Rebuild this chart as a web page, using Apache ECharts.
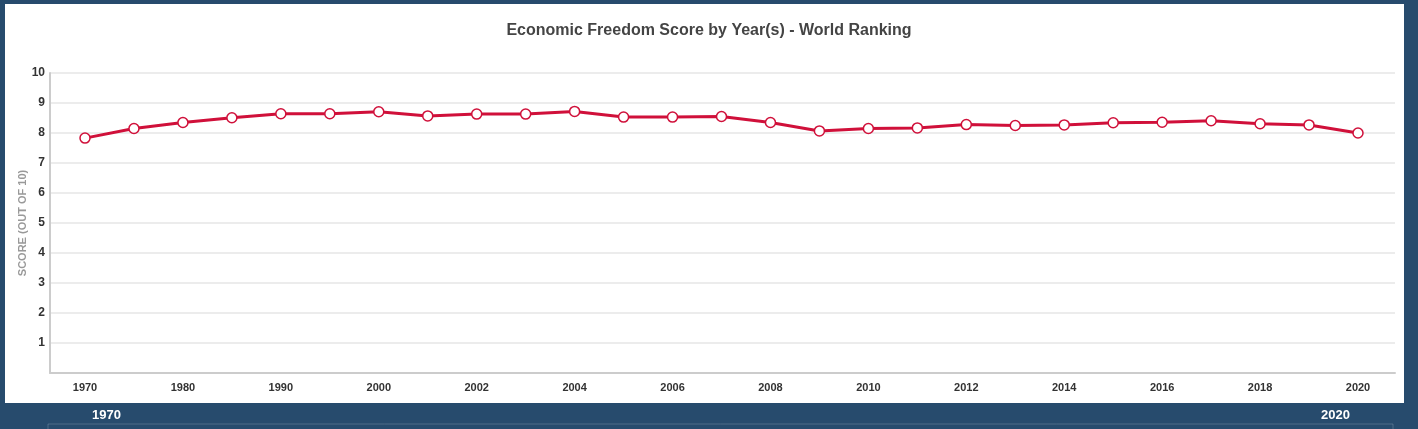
<!DOCTYPE html>
<html>
<head>
<meta charset="utf-8">
<script src="https://cdn.jsdelivr.net/npm/echarts@6/dist/echarts.min.js"></script>
<style>
html,body{margin:0;padding:0;background:#274b6d;}
#chart{width:1418px;height:429px;}
</style>
</head>
<body>
<div id="chart"></div>
<script>
const years = ['1970','1975','1980','1985','1990','1995','2000','2001','2002','2003','2004','2005','2006','2007','2008','2009','2010','2011','2012','2013','2014','2015','2016','2017','2018','2019','2020'];
const scores = [7.83,8.15,8.35,8.51,8.64,8.64,8.71,8.57,8.63,8.63,8.72,8.53,8.53,8.55,8.35,8.07,8.15,8.17,8.28,8.25,8.27,8.34,8.36,8.41,8.31,8.27,8.00];
const yTicks = [0,1,2,3,4,5,6,7,8,9,10];
const rangeLabels = ['1970','2020'];

const chart = echarts.init(document.getElementById('chart'));
const font = '"Liberation Sans", Arial, sans-serif';
chart.setOption({
  backgroundColor: '#274b6d',
  animation: false,
  graphic: [
    {type:'rect', z:-10, shape:{x:5,y:4,width:1399,height:399}, style:{fill:'#ffffff'}},
    {type:'rect', z:-10, shape:{x:48,y:424,width:1345,height:20}, style:{fill:'none',stroke:'rgba(255,255,255,0.18)',lineWidth:1}},
    {type:'text', left:107-15, top:409, style:{text:rangeLabels[0], fill:'#ffffff', font:'bold 13px '+font}},
    {type:'text', left:1336-15, top:409, style:{text:rangeLabels[1], fill:'#ffffff', font:'bold 13px '+font}}
  ],
  title: {
    text: 'Economic Freedom Score by Year(s) - World Ranking',
    left: 'center', top: 18,
    textStyle: {fontFamily: font, fontSize: 16, fontWeight: 'bold', color: '#444444'}
  },
  grid: [
    {left:50, right:23, top:73, bottom:56},
    {left:85, right:60, top:73, bottom:56}
  ],
  xAxis: [
    {gridIndex:0, type:'category', data:years, boundaryGap:true,
     axisLine:{show:true, lineStyle:{color:'#cccccc', width:2}},
     axisTick:{show:false}, axisLabel:{show:false}, splitLine:{show:false}},
    {gridIndex:1, type:'category', data:years, boundaryGap:false,
     axisLine:{show:false}, axisTick:{show:false}, splitLine:{show:false},
     axisLabel:{interval:1, margin:9, color:'#333333', fontFamily:font, fontSize:11, fontWeight:'bold'}}
  ],
  yAxis: [
    {gridIndex:0, type:'value', min:yTicks[0], max:yTicks[yTicks.length-1], interval:1,
     name:'SCORE (OUT OF 10)', nameLocation:'middle', nameGap:22, nameRotate:90,
     nameMoveOverlap:false,
     nameTextStyle:{color:'#999999', fontFamily:font, fontSize:11, fontWeight:'bold'},
     axisLine:{show:true, lineStyle:{color:'#cccccc', width:2}},
     axisTick:{show:false},
     axisLabel:{margin:5, color:'#333333', fontFamily:font, fontSize:12, fontWeight:'bold',
       formatter: v => v === 0 ? '' : String(v)},
     splitLine:{show:true, lineStyle:{color:'#e6e6e6', width:1.5}}},
    {gridIndex:1, type:'value', min:yTicks[0], max:yTicks[yTicks.length-1], show:false, splitLine:{show:false}}
  ],
  series: [{
    type:'line', xAxisIndex:1, yAxisIndex:1, data:scores,
    symbol:'circle', symbolSize:10,
    lineStyle:{color:'#d0103a', width:3},
    itemStyle:{color:'#ffffff', borderColor:'#d0103a', borderWidth:1.5}
  }]
});
</script>
</body>
</html>
